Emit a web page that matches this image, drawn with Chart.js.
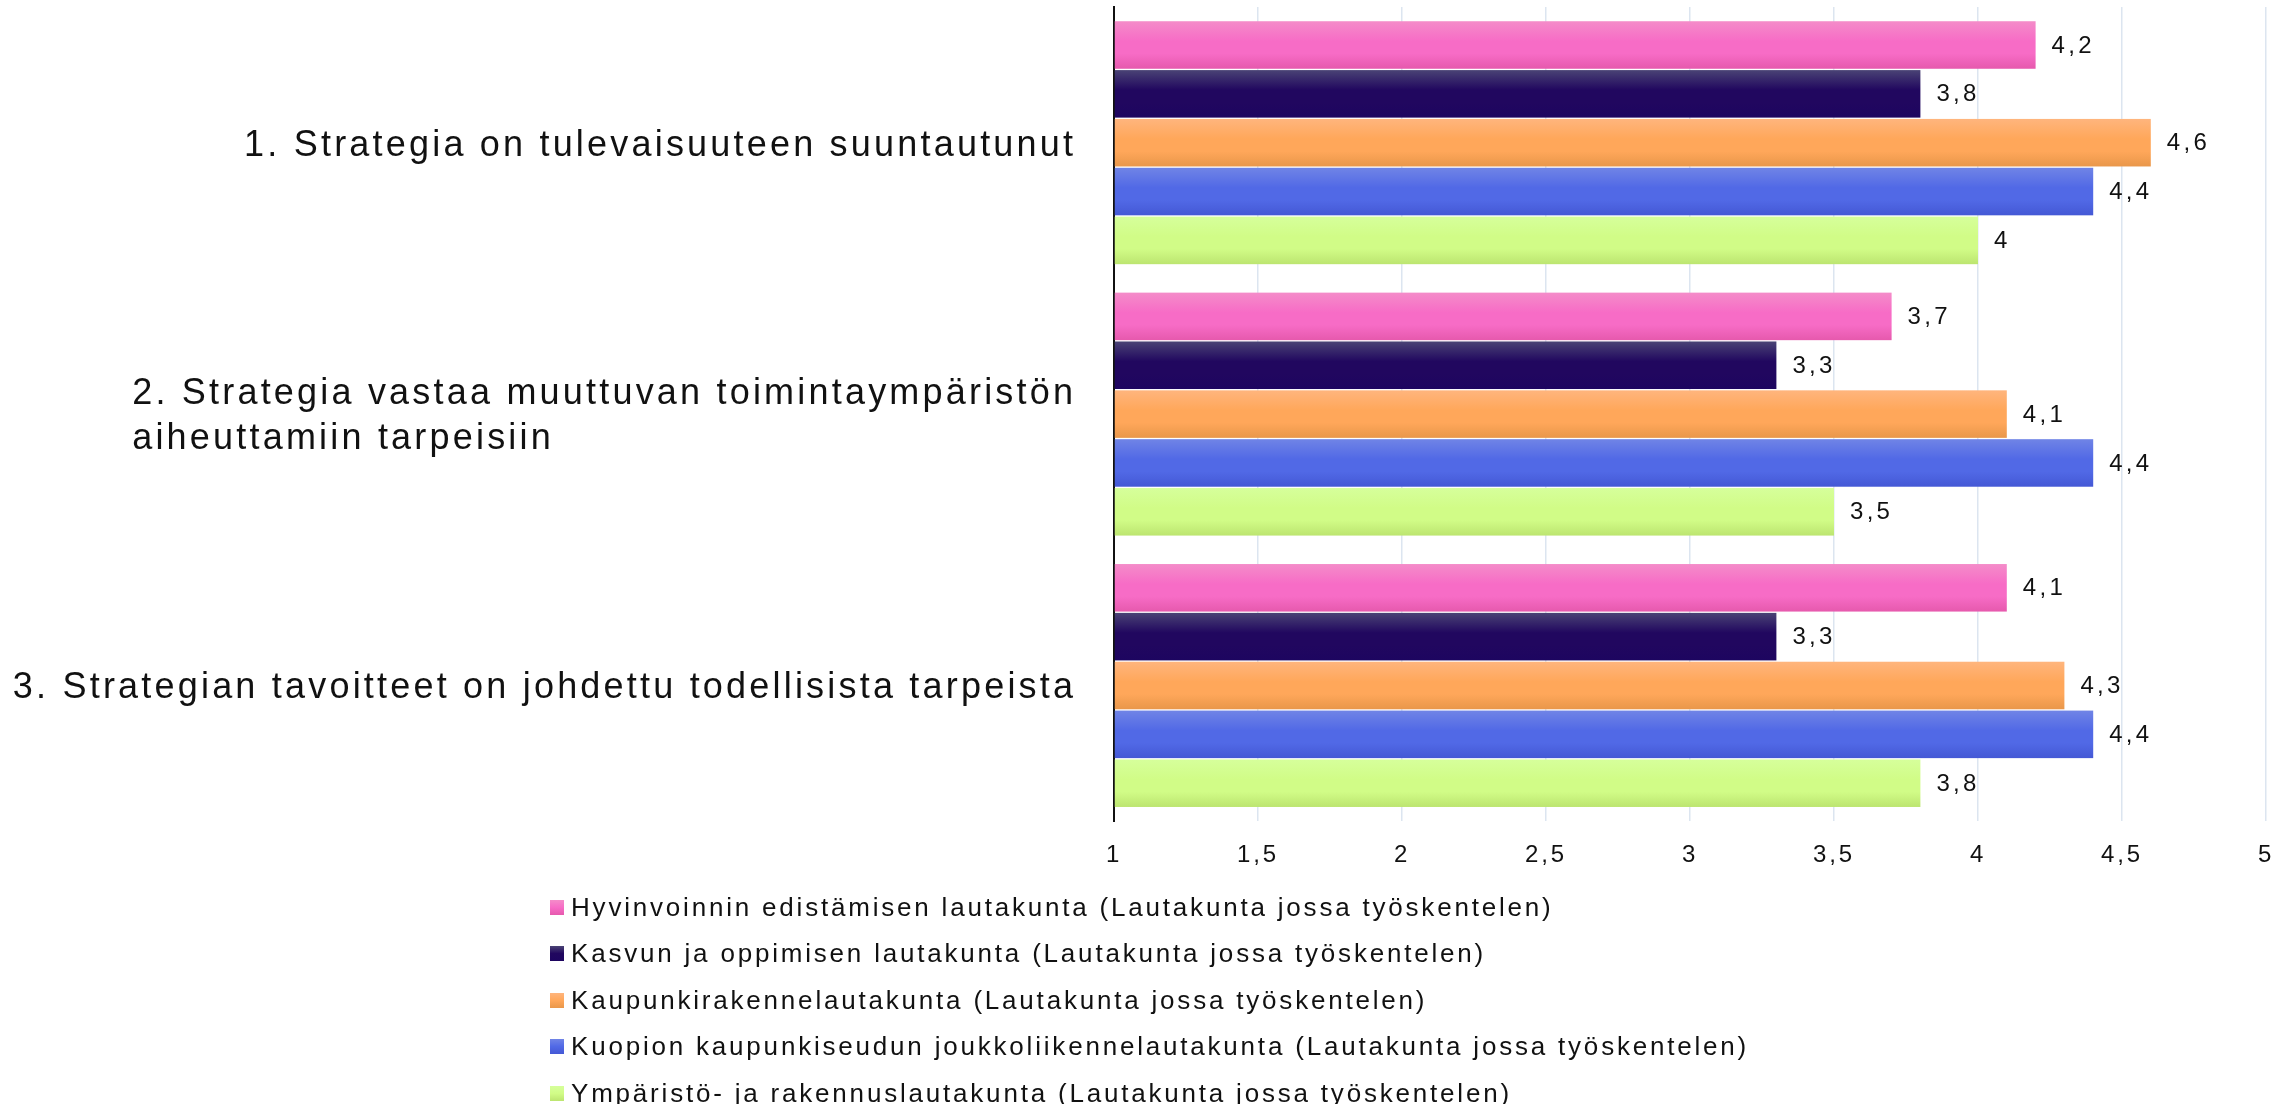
<!DOCTYPE html>
<html><head><meta charset="utf-8">
<script src="https://cdn.jsdelivr.net/npm/chart.js@4.4.1/dist/chart.umd.min.js"></script>
<style>
html,body{margin:0;padding:0;background:#fff;overflow:hidden}
#wrap{position:relative;width:2295px;height:1104px}
#legend{position:absolute;left:550px;top:884px;font-family:"Liberation Sans",Arial,sans-serif;font-size:26px;letter-spacing:2.8px;color:#111}
.item{height:46.5px;display:flex;align-items:center;white-space:nowrap}
.box{width:14px;height:15px;margin-right:7px;flex:none}
</style></head><body>
<div id="wrap"><canvas id="c" width="2295" height="1104"></canvas><div id="legend"></div></div>
<script>
// ---- data ----
const categories = [
  ['1. Strategia on tulevaisuuteen suuntautunut'],
  ['2. Strategia vastaa muuttuvan toimintaympäristön', 'aiheuttamiin tarpeisiin'],
  ['3. Strategian tavoitteet on johdettu todellisista tarpeista']
];
const seriesNames = [
  'Hyvinvoinnin edistämisen lautakunta (Lautakunta jossa työskentelen)',
  'Kasvun ja oppimisen lautakunta (Lautakunta jossa työskentelen)',
  'Kaupunkirakennelautakunta (Lautakunta jossa työskentelen)',
  'Kuopion kaupunkiseudun joukkoliikennelautakunta (Lautakunta jossa työskentelen)',
  'Ympäristö- ja rakennuslautakunta (Lautakunta jossa työskentelen)'
];
const hyvinvointi     = [4.2, 3.7, 4.1];
const kasvu           = [3.8, 3.3, 3.3];
const kaupunkirakenne = [4.6, 4.1, 4.3];
const joukkoliikenne  = [4.4, 4.4, 4.4];
const ymparisto       = [4.0, 3.5, 3.8];
const xTickLabels = ['1', '1,5', '2', '2,5', '3', '3,5', '4', '4,5', '5'];

// ---- styles ----
const FONT = '"Liberation Sans", Arial, sans-serif';
const gradStops = [
  ['#F48CC9', '#F76CC6', '#E659AD'],
  ['#4A4375', '#21075F', '#1D0560'],
  ['#FFB57D', '#FFA75A', '#E9974A'],
  ['#7084E6', '#5169E6', '#4458D5'],
  ['#D6FF9B', '#D1FC87', '#BCE570']
];
const seriesValues = [hyvinvointi, kasvu, kaupunkirakenne, joukkoliikenne, ymparisto];

const barGradient = {
  id: 'barGradient',
  beforeDatasetDraw(chart, args) {
    const ctx = chart.ctx;
    const stops = gradStops[args.index];
    ctx.save();
    args.meta.data.forEach(el => {
      const p = el.getProps(['x', 'y', 'base', 'height'], true);
      const top = p.y - p.height / 2;
      const g = ctx.createLinearGradient(0, top, 0, top + p.height);
      g.addColorStop(0, stops[0]);
      g.addColorStop(0.42, stops[1]);
      g.addColorStop(0.68, stops[1]);
      g.addColorStop(1, stops[2]);
      ctx.fillStyle = g;
      ctx.fillRect(Math.min(p.base, p.x), top, Math.abs(p.x - p.base), p.height);
    });
    ctx.restore();
    return false;
  }
};

const valueLabels = {
  id: 'valueLabels',
  afterDatasetsDraw(chart) {
    const ctx = chart.ctx;
    ctx.save();
    ctx.font = '24px ' + FONT;
    ctx.letterSpacing = '3.3px';
    ctx.fillStyle = '#111';
    ctx.textAlign = 'left';
    ctx.textBaseline = 'middle';
    chart.data.datasets.forEach((ds, di) => {
      chart.getDatasetMeta(di).data.forEach((el, i) => {
        const p = el.getProps(['x', 'y'], true);
        ctx.fillText(String(ds.data[i]).replace('.', ','), p.x + 16, p.y + 1);
      });
    });
    ctx.restore();
  }
};

const categoryLabels = {
  id: 'categoryLabels',
  afterDraw(chart) {
    const ctx = chart.ctx;
    const yScale = chart.scales.y;
    const size = 36, ls = 3.2, lineH = 45;
    const right = chart.chartArea.left - 41 + ls;
    ctx.save();
    ctx.font = size + 'px ' + FONT;
    ctx.letterSpacing = ls + 'px';
    ctx.fillStyle = '#111';
    ctx.textBaseline = 'alphabetic';
    categories.forEach((lines, i) => {
      const cy = yScale.getPixelForValue(i);
      const startX = right - ctx.measureText(lines[0]).width;
      const y0 = cy - (lines.length - 1) * lineH / 2;
      lines.forEach((line, j) => {
        ctx.textAlign = 'left';
        ctx.fillText(line, startX, y0 + j * lineH + size * 0.358);
      });
    });
    ctx.restore();
  }
};

const spacing = {
  id: 'spacing',
  beforeDraw(chart) { chart.ctx.letterSpacing = '2.8px'; }
};

const chart = new Chart(document.getElementById('c'), {
  type: 'bar',
  data: {
    labels: categories.map(l => l.join(' ')),
    datasets: seriesNames.map((name, i) => ({
      label: name,
      data: seriesValues[i],
      base: 1,
      backgroundColor: gradStops[i][1],
      borderWidth: 0,
      categoryPercentage: 0.9,
      barPercentage: 0.973
    }))
  },
  options: {
    indexAxis: 'y',
    responsive: false,
    animation: false,
    devicePixelRatio: 1,
    layout: { padding: { left: 1114, right: 29, top: 7, bottom: 214 } },
    plugins: { legend: { display: false }, tooltip: { enabled: false } },
    scales: {
      x: {
        type: 'linear', min: 1, max: 5,
        ticks: {
          stepSize: 0.5, padding: 20, color: '#111',
          font: { family: FONT, size: 24 },
          callback: (v, idx) => xTickLabels[idx]
        },
        grid: {
          drawTicks: false, lineWidth: 1.5,
          color: ctx => ctx.index === 0 ? 'rgba(0,0,0,0)' : '#DCE5F0'
        },
        border: { display: false }
      },
      y: {
        ticks: { display: false },
        grid: { display: false, drawTicks: false },
        border: { display: true, color: '#111', width: 2 }
      }
    }
  },
  plugins: [spacing, barGradient, valueLabels, categoryLabels]
});

// HTML legend built from the chart's datasets
const legendEl = document.getElementById('legend');
chart.data.datasets.forEach((ds, i) => {
  const item = document.createElement('div');
  item.className = 'item';
  const box = document.createElement('span');
  box.className = 'box';
  box.style.background = 'linear-gradient(' + gradStops[i][0] + ',' + gradStops[i][1] + ' 50%,' + gradStops[i][2] + ')';
  const txt = document.createElement('span');
  txt.textContent = ds.label;
  item.appendChild(box); item.appendChild(txt);
  legendEl.appendChild(item);
});
</script>
</body></html>
